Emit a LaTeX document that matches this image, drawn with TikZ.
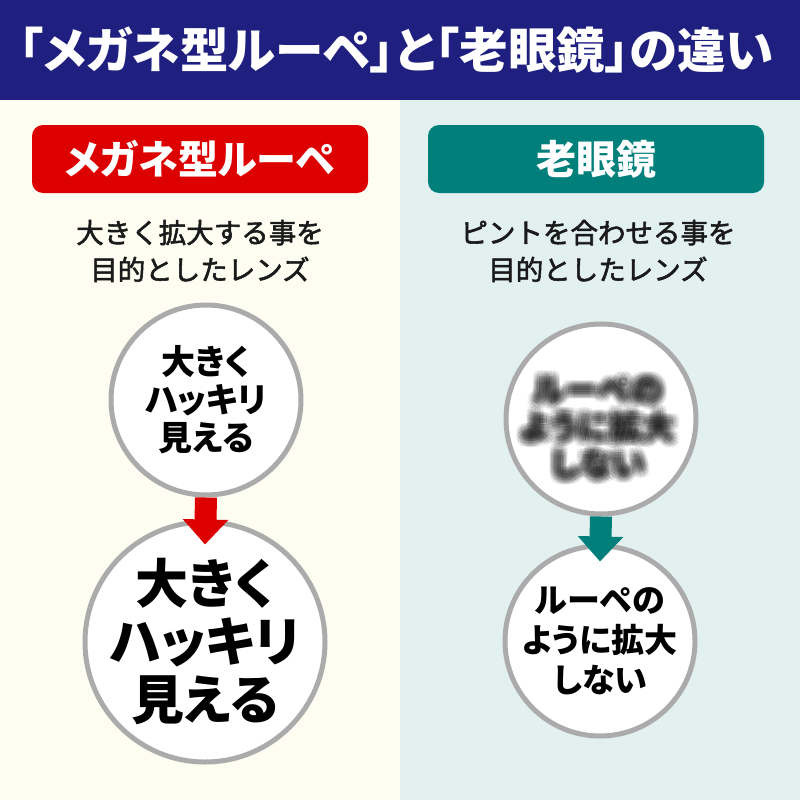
\documentclass[tikz,border=0pt]{standalone}
\usepackage{fontspec}
\newfontfamily\jp{Noto Sans CJK JP}
\newfontfamily\jpp{Noto Sans CJK JP}[RawFeature=+palt]
\usetikzlibrary{arrows.meta,calc}
\definecolor{navy}{HTML}{1F1F80}
\definecolor{redc}{HTML}{DC0000}
\definecolor{tealc}{HTML}{007F7B}
\definecolor{creambg}{HTML}{FDFDF1}
\definecolor{bluebg}{HTML}{E3F0F0}
\definecolor{ringc}{HTML}{ABABAB}
\definecolor{txt}{HTML}{1A1A1A}
\newcommand{\medw}[1]{\special{pdf:literal direct 1 j 2 Tr 0.55 w}#1\special{pdf:literal direct 0 Tr 1 w}}
\tikzset{
  labelbox/.style={rounded corners=11pt, minimum width=336pt, minimum height=68pt, text=white, inner sep=0pt, font=\jpp\bfseries\fontsize{40}{42}\selectfont},
  subtxt/.style={align=center, text=txt, font=\jp\fontsize{27.5}{37}\selectfont},
  ring/.style={circle, draw=ringc, line width=5pt, fill=white, inner sep=0pt},
  ringtxt/.style={align=center, text=black, font=\jpp\bfseries\fontsize{34}{38}\selectfont},
  bigtxt/.style={align=center, text=black, font=\jpp\bfseries\fontsize{53}{58}\selectfont},
  rtxt/.style={align=center, text=black, font=\jpp\bfseries\fontsize{33}{40}\selectfont},
  blurtxt/.style={align=center, text=black, opacity=0.075, font=\jpp\bfseries\fontsize{33}{37}\selectfont},
  flow/.style={line width=22pt, -{Triangle[width=44pt,length=25pt]}}
}
\begin{document}
\begin{tikzpicture}[x=1pt,y=-1pt]
\useasboundingbox (0,0) rectangle (800,800);
\fill[creambg] (0,100) rectangle (400,800);
\fill[bluebg] (400,100) rectangle (800,800);
\fill[navy] (0,0) rectangle (800,100);
\node[text=white, font=\jpp\bfseries\fontsize{48.5}{52}\selectfont] (title) at (396,50) {「メガネ型ルーペ」と「老眼鏡」の違い};

\node[labelbox, fill=redc] (lbox) at (200,159) {メガネ型ルーペ};
\node[labelbox, fill=tealc] (rbox) at (596,159) {老眼鏡};

\node[subtxt] (lsub) at (200,251) {\medw{大きく拡大する事を}\\\medw{目的としたレンズ}};
\node[subtxt] (rsub) at (598,251) {\medw{ピントを合わせる事を}\\\medw{目的としたレンズ}};

% left column
\node[ring, minimum size=190pt] (l1) at (206,400) {};
\node[ringtxt] (l1t) at (l1) {大きく\\ハッキリ\\見える};
\node[ring, minimum size=240pt] (l2) at (205,642) {};
\node[bigtxt] (l2t) at (l2) {大きく\\ハッキリ\\見える};
\draw[flow, redc] (l1.south) -- ($(l2.north)+(0,25)$);

% right column
\node[ring, minimum size=190pt] (r1) at (601,419) {};
\foreach \dx/\dy [count=\i] in {0/0,0/0,2/0,-2/0,0/2,0/-2,3/3,-3/3,3/-3,-3/-3,4.5/0,-4.5/0,0/4.5,0/-4.5,6/2,-6/2,6/-2,-6/-2,2/6,-2/6,2/-6,-2/-6,5/5,-5/5,5/-5,-5/-5}{
  \node[blurtxt] (blur\i) at ($(r1)+(-3,9)+(\dx,\dy)$) {ルーペの\\ように拡大\\しない};
}
\node[ring, minimum size=190pt] (r2) at (600,641) {};
\node[rtxt] (r2t) at (r2) {ルーペの\\ように拡大\\しない};
\draw[flow, tealc] (r1.south) -- ($(r2.north)+(0,18)$);
\end{tikzpicture}
\end{document}
